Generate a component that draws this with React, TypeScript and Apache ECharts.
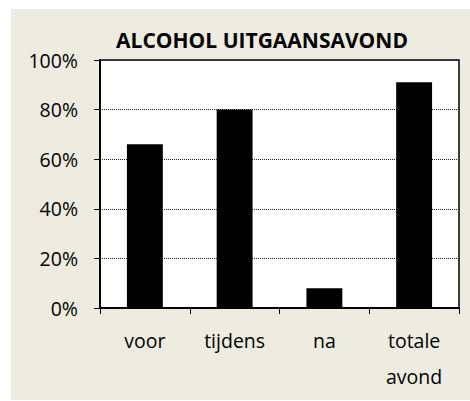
import React, { useEffect, useRef } from "react";
import * as echarts from "echarts";

const categories = ["voor", "tijdens", "na", "totale\navond"];
const values = [0.66, 0.8, 0.08, 0.91];
const titleText = "ALCOHOL UITGAANSAVOND";

export default function App() {
  const ref = useRef<HTMLDivElement>(null);
  useEffect(() => {
    document.body.style.margin = "0";
    const chart = echarts.init(ref.current!, null, { renderer: "svg" });
    const font = "'Open Sans', 'Noto Sans', sans-serif";
    chart.setOption({
      animation: false,
      textStyle: { fontFamily: font },
      graphic: [
        {
          type: "rect",
          z: -10,
          silent: true,
          shape: { x: 11, y: 9, width: 459, height: 391 },
          style: { fill: "#EEECE1" },
        },
        {
          type: "text",
          x: 262,
          y: 40,
          style: {
            text: titleText,
            fontFamily: font,
            fontWeight: "bold",
            fontSize: 21,
            fill: "#000",
            textAlign: "center",
            textVerticalAlign: "middle",
          },
        },
      ],
      grid: {
        left: 100,
        top: 60,
        right: 11,
        bottom: 93,
        show: true,
        backgroundColor: "#fff",
        borderColor: "#000",
        borderWidth: 1.5,
      },
      xAxis: {
        type: "category",
        data: categories,
        axisLine: { show: true, lineStyle: { color: "#000", width: 2 } },
        axisTick: { show: true, length: 6, lineStyle: { color: "#000", width: 1 } },
        axisLabel: {
          color: "#000",
          fontSize: 19.5,
          lineHeight: 36,
          margin: 14,
          fontFamily: font,
        },
        splitLine: { show: false },
      },
      yAxis: {
        type: "value",
        min: 0,
        max: 1,
        interval: 0.2,
        axisLine: { show: true, lineStyle: { color: "#000", width: 2 } },
        axisTick: { show: true, length: 6, lineStyle: { color: "#000", width: 1 } },
        axisLabel: {
          color: "#000",
          fontSize: 19.5,
          margin: 22,
          fontFamily: font,
          formatter: (v: number) => Math.round(v * 100) + "%",
        },
        splitLine: {
          show: true,
          lineStyle: { color: "#222", width: 1, type: [1, 1] },
        },
      },
      series: [
        {
          type: "bar",
          data: values,
          barWidth: "40%",
          itemStyle: { color: "#000" },
        },
      ],
    });
    return () => chart.dispose();
  }, []);
  return <div ref={ref} style={{ width: 470, height: 401 }} />;
}
